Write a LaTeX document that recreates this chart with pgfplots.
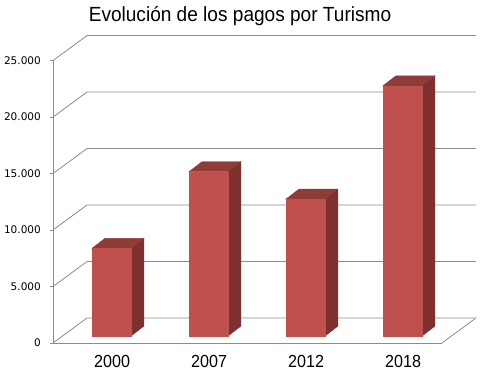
\documentclass[border=0pt]{standalone}
\usepackage{fontspec}
\setmainfont{Liberation Sans}
\newfontfamily\dejavu{DejaVu Sans}
\usepackage{pgfplots}
\usepackage{pgfplotstable}
\pgfplotsset{compat=1.18}
\definecolor{gridc}{HTML}{8C8C8C}
\definecolor{barfront}{HTML}{C0504D}
\definecolor{barside}{HTML}{7E302E}
\definecolor{bartop}{HTML}{8F3B38}
\pgfplotstableread{
x v
0 7760
1 14540
2 12120
3 22150
}\data
\begin{document}
\begin{tikzpicture}
\useasboundingbox (-53bp,-32bp) rectangle (434bp,343bp);
\begin{axis}[
  at={(0,0)}, anchor=south west,
  x=97bp, y=0.0113bp,
  xmin=-0.505, xmax=3.505, ymin=0, ymax=25000,
  clip=false,
  axis lines*=left,
  axis line style={draw=gridc, line width=0.8bp},
  xtick={0,1,2,3},
  xticklabels={2000,2007,2012,2018},
  xtick style={draw=none},
  xticklabel style={font=\fontsize{17.5bp}{20bp}\selectfont, xscale=0.92, anchor=base, yshift=-21.5bp, xshift=11bp, inner sep=0pt},
  ytick={0,5000,10000,15000,20000,25000},
  scaled y ticks=false,
  tick align=outside,
  ytick style={draw=gridc, line width=0.8bp},
  major tick length=3bp,
  yticklabel style={font=\dejavu\fontsize{10.5bp}{12bp}\selectfont, /pgf/number format/assume math mode=true, /pgf/number format/1000 sep={.}, anchor=east, inner sep=0pt, xshift=-9bp},
]
\pgfplotsinvokeforeach{0,5000,10000,15000,20000,25000}{
  \draw[gridc, line width=0.8bp] (axis cs:-0.505,#1) -- ++(34bp,25bp) -- ++(389bp,0bp);
}
\draw[gridc, line width=0.8bp] (axis cs:3.505,0) -- ++(34bp,25bp);
\addplot[scatter, only marks, mark=*, mark size=0pt, mark options={draw=none, fill=none},
  visualization depends on={\thisrow{v}*0.0113 \as \barh},
  scatter/@pre marker code/.code={%
    \fill[barside] (29bp,{7bp-\barh bp}) -- (42bp,{17bp-\barh bp}) -- (42bp,17bp) -- (29bp,7bp) -- cycle;
    \fill[bartop] (-10bp,7bp) -- (3bp,17bp) -- (42bp,17bp) -- (29bp,7bp) -- cycle;
    \fill[barfront] (-10bp,{7bp-\barh bp}) rectangle (29bp,7bp);
  },
  scatter/@post marker code/.code={},
] table[x=x, y=v] {\data};
\end{axis}
\node[anchor=base, font=\fontsize{20.5bp}{24bp}\selectfont, xscale=0.93, inner sep=0pt] at (187bp,321.5bp) {Evolución de los pagos por Turismo};
\end{tikzpicture}
\end{document}
